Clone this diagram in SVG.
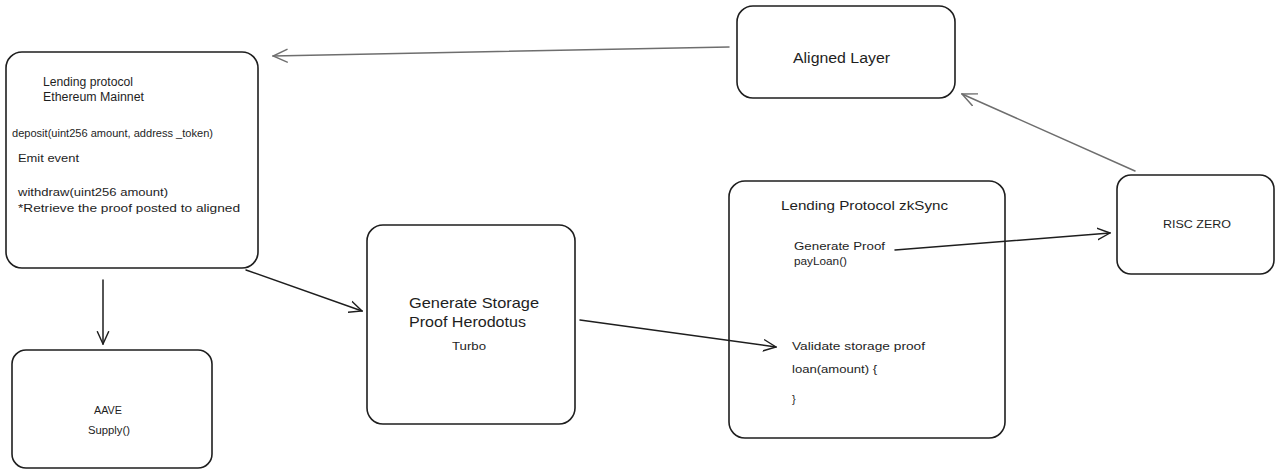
<svg xmlns="http://www.w3.org/2000/svg" width="1280" height="474" viewBox="0 0 1280 474">
<style>
.box{fill:#fff;stroke:#1e1e1e;stroke-width:1.6}
.t{font-family:"Liberation Sans",Arial,sans-serif;fill:#1e1e1e}
.c{fill:none;stroke:#1e1e1e;stroke-width:1.5;stroke-linecap:round}
.g{stroke:#6e6e6e}
</style>
<defs>
<marker id="ah" viewBox="0 0 12 12" refX="11" refY="6" markerWidth="14" markerHeight="14" markerUnits="userSpaceOnUse" orient="auto">
<path d="M0,1 L11,6 L0,11" fill="none" stroke="#1e1e1e" stroke-width="1.2"/>
</marker>
<marker id="ahg" viewBox="0 0 12 12" refX="11" refY="6" markerWidth="16" markerHeight="16" markerUnits="userSpaceOnUse" orient="auto">
<path d="M0,1 L11,6 L0,11" fill="none" stroke="#6e6e6e" stroke-width="1.1"/>
</marker>
</defs>
<rect width="1280" height="474" fill="#fff"/>
<g id="eth">
<rect class="box" x="6" y="52" width="252" height="216" rx="16"/>
<text class="t" font-size="12" x="43" y="86" textLength="90" lengthAdjust="spacingAndGlyphs">Lending protocol</text>
<text class="t" font-size="12" x="43" y="101" textLength="101" lengthAdjust="spacingAndGlyphs">Ethereum Mainnet</text>
<text class="t" font-size="10" x="12" y="137" textLength="201" lengthAdjust="spacingAndGlyphs">deposit(uint256 amount, address _token)</text>
<text class="t" font-size="11.5" x="18" y="162" textLength="61" lengthAdjust="spacingAndGlyphs">Emit event</text>
<text class="t" font-size="11.5" x="18" y="196" textLength="150" lengthAdjust="spacingAndGlyphs">withdraw(uint256 amount)</text>
<text class="t" font-size="11.5" x="18" y="212" textLength="222" lengthAdjust="spacingAndGlyphs">*Retrieve the proof posted to aligned</text>
</g>
<g id="aave">
<rect class="box" x="12" y="350" width="200" height="118" rx="14"/>
<text class="t" font-size="10" x="94" y="414" textLength="28" lengthAdjust="spacingAndGlyphs">AAVE</text>
<text class="t" font-size="10" x="88" y="434" textLength="42" lengthAdjust="spacingAndGlyphs">Supply()</text>
</g>
<g id="herodotus">
<rect class="box" x="367" y="225" width="208" height="199" rx="16"/>
<text class="t" font-size="14.5" x="409" y="308" textLength="130" lengthAdjust="spacingAndGlyphs">Generate Storage</text>
<text class="t" font-size="14.5" x="409" y="327" textLength="117" lengthAdjust="spacingAndGlyphs">Proof Herodotus</text>
<text class="t" font-size="10.5" x="452" y="350" textLength="34" lengthAdjust="spacingAndGlyphs">Turbo</text>
</g>
<g id="zksync">
<rect class="box" x="729" y="181" width="276" height="257" rx="16"/>
<text class="t" font-size="13" x="781" y="210" textLength="167" lengthAdjust="spacingAndGlyphs">Lending Protocol zkSync</text>
<text class="t" font-size="11" x="794" y="250" textLength="91" lengthAdjust="spacingAndGlyphs">Generate Proof</text>
<text class="t" font-size="11" x="794" y="265" textLength="53" lengthAdjust="spacingAndGlyphs">payLoan()</text>
<text class="t" font-size="11" x="792" y="350" textLength="133" lengthAdjust="spacingAndGlyphs">Validate storage proof</text>
<text class="t" font-size="11" x="792" y="373" textLength="85" lengthAdjust="spacingAndGlyphs">loan(amount) {</text>
<text class="t" font-size="11" x="792" y="403">}</text>
</g>
<g id="aligned">
<rect class="box" x="737" y="6" width="218" height="92" rx="16"/>
<text class="t" font-size="14" x="793" y="63" textLength="97" lengthAdjust="spacingAndGlyphs">Aligned Layer</text>
</g>
<g id="risc">
<rect class="box" x="1117" y="175" width="157" height="99" rx="14"/>
<text class="t" font-size="10.5" x="1163" y="228" textLength="68" lengthAdjust="spacingAndGlyphs">RISC ZERO</text>
</g>
<g id="connectors">
<path class="c g" d="M729,47 L273,56" marker-end="url(#ahg)"/>
<path class="c g" d="M1135,171 L962,94" marker-end="url(#ahg)"/>
<path class="c" d="M246,270 L362,311" marker-end="url(#ah)"/>
<path class="c" d="M103,280 L103,344" marker-end="url(#ah)"/>
<path class="c" d="M580,320 L776,347" marker-end="url(#ah)"/>
<path class="c" stroke-width="2" d="M895,250 L1110,233" marker-end="url(#ah)"/>
</g>
</svg>
